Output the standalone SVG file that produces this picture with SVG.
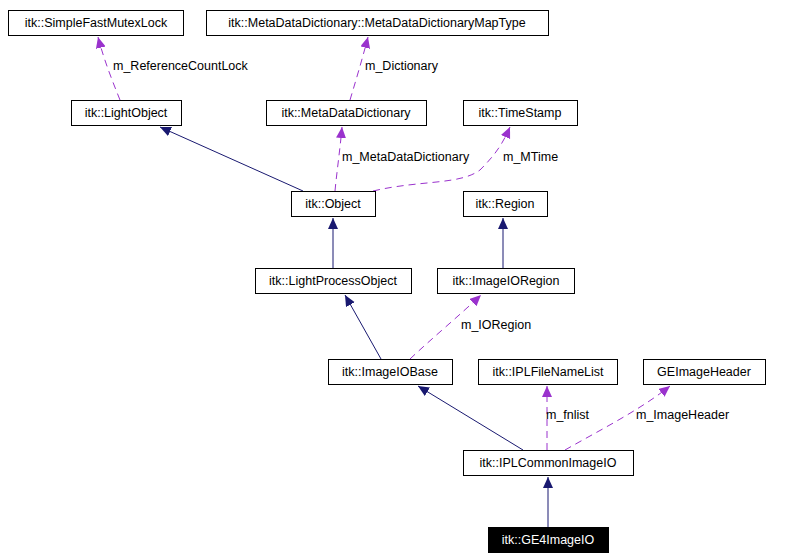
<svg xmlns="http://www.w3.org/2000/svg" width="811" height="559" viewBox="0 0 811 559">
<defs>
<style>
text{font-family:"Liberation Sans",Arial,sans-serif;font-size:12.5px;fill:#000}
.n rect{fill:#fff;stroke:#000;stroke-width:1}
.n text{text-anchor:middle}
.inh{stroke:#191970;fill:none;stroke-width:1}
.use{stroke:#9a32cd;fill:none;stroke-width:1;stroke-dasharray:7,5}
</style>
<marker id="ai" markerWidth="12" markerHeight="12" refX="11" refY="5" orient="auto" markerUnits="userSpaceOnUse"><path d="M0,0L11,5L0,10z" fill="#191970"/></marker>
<marker id="au" markerWidth="12" markerHeight="12" refX="11" refY="5" orient="auto" markerUnits="userSpaceOnUse"><path d="M0,0L11,5L0,10z" fill="#9a32cd"/></marker>
</defs>
<rect width="811" height="559" fill="#fff"/>
<g id="edges">
<path class="inh" marker-end="url(#ai)" d="M303,191L160,127"/>
<path class="use" marker-end="url(#au)" d="M120,100C112,80 104,60 98,37"/>
<path class="use" marker-end="url(#au)" d="M350,100C356,80 362,60 368,37"/>
<path class="use" marker-end="url(#au)" d="M335,191C337,170 340,150 342,127"/>
<path class="use" marker-end="url(#au)" d="M373,191C420,180 460,185 480,170C495,155 502,145 510,127"/>
<path class="inh" marker-end="url(#ai)" d="M333,268L333,218"/>
<path class="inh" marker-end="url(#ai)" d="M503,268L503,218"/>
<path class="inh" marker-end="url(#ai)" d="M381,359L345,295"/>
<path class="use" marker-end="url(#au)" d="M410,359C430,340 460,315 481,295"/>
<path class="inh" marker-end="url(#ai)" d="M523,450L418,386"/>
<path class="use" marker-end="url(#au)" d="M547,450L547,386"/>
<path class="use" marker-end="url(#au)" d="M565,450C600,430 640,410 670,386"/>
<path class="inh" marker-end="url(#ai)" d="M548,527L548,477"/>
</g>
<g id="labels">
<text x="113" y="70">m_ReferenceCountLock</text>
<text x="365" y="70">m_Dictionary</text>
<text x="342" y="161">m_MetaDataDictionary</text>
<text x="503" y="161">m_MTime</text>
<text x="461" y="329">m_IORegion</text>
<text x="546" y="419">m_fnlist</text>
<text x="636" y="419">m_ImageHeader</text>
</g>
<g id="SimpleFastMutexLock" class="n"><rect x="8.5" y="10.5" width="175" height="25"/><text x="96" y="27">itk::SimpleFastMutexLock</text></g>
<g id="MapType" class="n"><rect x="206.5" y="10.5" width="342" height="25"/><text x="377" y="27">itk::MetaDataDictionary::MetaDataDictionaryMapType</text></g>
<g id="LightObject" class="n"><rect x="71.5" y="100.5" width="110" height="25"/><text x="126" y="117">itk::LightObject</text></g>
<g id="MetaDataDictionary" class="n"><rect x="266.5" y="100.5" width="160" height="25"/><text x="346" y="117">itk::MetaDataDictionary</text></g>
<g id="TimeStamp" class="n"><rect x="463.5" y="100.5" width="114" height="25"/><text x="520" y="117">itk::TimeStamp</text></g>
<g id="Object" class="n"><rect x="291.5" y="191.5" width="84" height="25"/><text x="333" y="208">itk::Object</text></g>
<g id="Region" class="n"><rect x="463.5" y="191.5" width="84" height="25"/><text x="505" y="208">itk::Region</text></g>
<g id="LightProcessObject" class="n"><rect x="255.5" y="268.5" width="156" height="25"/><text x="333" y="285">itk::LightProcessObject</text></g>
<g id="ImageIORegion" class="n"><rect x="437.5" y="268.5" width="137" height="25"/><text x="506" y="285">itk::ImageIORegion</text></g>
<g id="ImageIOBase" class="n"><rect x="328.5" y="359.5" width="124" height="25"/><text x="390" y="376">itk::ImageIOBase</text></g>
<g id="IPLFileNameList" class="n"><rect x="478.5" y="359.5" width="139" height="25"/><text x="548" y="376">itk::IPLFileNameList</text></g>
<g id="GEImageHeader" class="n"><rect x="643.5" y="359.5" width="122" height="25"/><text x="704" y="376">GEImageHeader</text></g>
<g id="IPLCommonImageIO" class="n"><rect x="463.5" y="450.5" width="170" height="25"/><text x="548" y="467">itk::IPLCommonImageIO</text></g>
<g id="GE4ImageIO" class="n"><rect x="488.5" y="527.5" width="120" height="25" style="fill:#000"/><text x="548" y="544" style="fill:#fff">itk::GE4ImageIO</text></g>
</svg>
